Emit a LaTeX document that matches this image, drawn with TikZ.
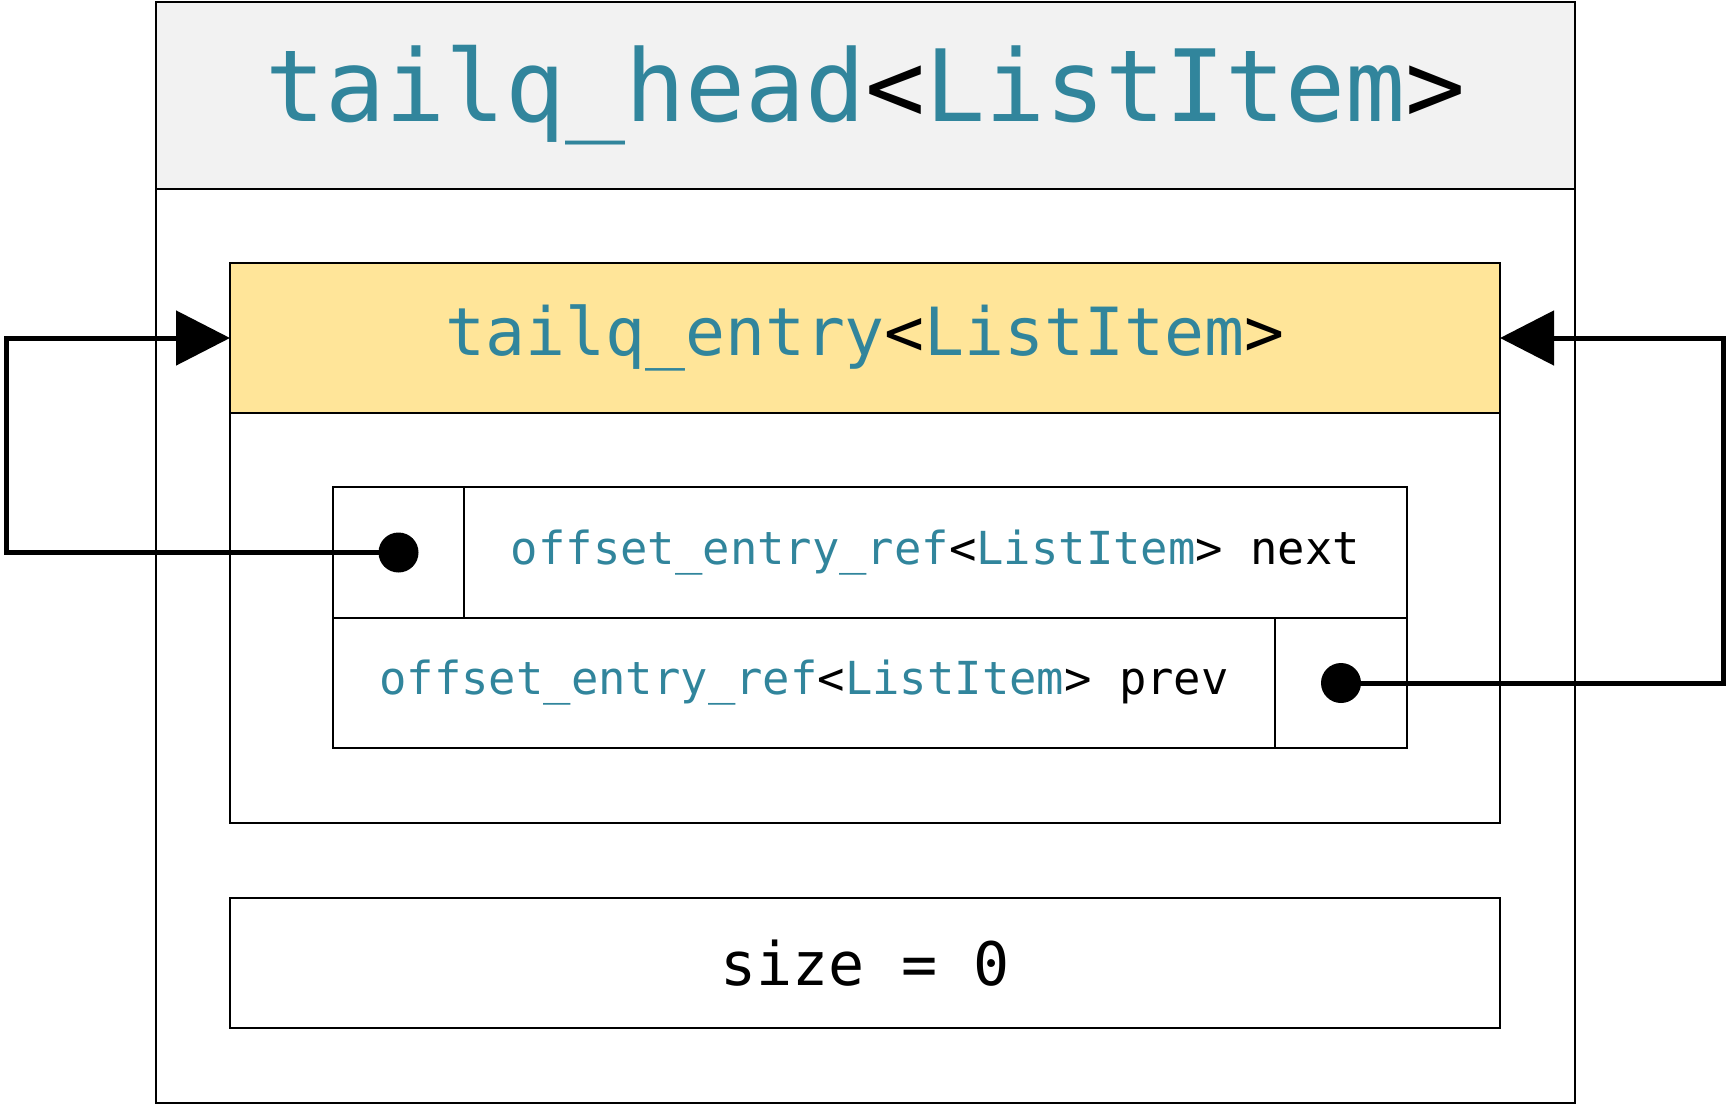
\documentclass[tikz,border=0pt]{standalone}
\usepackage{fontspec}
\setmonofont{DejaVu Sans Mono}
\usetikzlibrary{arrows.meta}
\definecolor{tealtext}{HTML}{31859C}
\definecolor{headgray}{HTML}{F2F2F2}
\definecolor{entryyellow}{HTML}{FFE599}
\newcommand{\tl}[1]{\textcolor{tealtext}{#1}}
\begin{document}
\begin{tikzpicture}[x=1pt,y=-1pt,
    cell/.style = {draw, line width=1.6pt, inner sep=0pt, outer sep=0pt, font=\ttfamily},
    wire/.style = {line width=5pt},
    dot/.style = {circle, fill=black, inner sep=0pt, minimum size=40pt}]
\useasboundingbox (0,0) rectangle (1731,1106);
\node[cell, minimum width=1419pt, minimum height=1101pt] (head) at (865.5,552.5) {};
\node[cell, fill=headgray, minimum width=1419pt, minimum height=187pt,
    font=\ttfamily\fontsize{99.7}{100}\selectfont] (headbar) at (865.5,95.5)
    {\tl{tailq\_head}<\tl{ListItem}>};
\node[cell, minimum width=1270pt, minimum height=560pt] (entry) at (865,543) {};
\node[cell, fill=entryyellow, minimum width=1270pt, minimum height=150pt,
    font=\ttfamily\fontsize{66.4}{67}\selectfont] (entrybar) at (865,338)
    {\tl{tailq\_entry}<\tl{ListItem}>};
\node[cell, minimum width=131pt, minimum height=131pt] (nextptr) at (398.5,552.5) {};
\node[cell, minimum width=943pt, minimum height=131pt,
    font=\ttfamily\fontsize{45.5}{46}\selectfont] (nextname) at (935.5,552.5)
    {\tl{offset\_entry\_ref}<\tl{ListItem}> next};
\node[cell, minimum width=942pt, minimum height=130pt,
    font=\ttfamily\fontsize{45.5}{46}\selectfont] (prevname) at (804,683)
    {\tl{offset\_entry\_ref}<\tl{ListItem}> prev};
\node[cell, minimum width=132pt, minimum height=130pt] (prevptr) at (1341,683) {};
\node[cell, minimum width=1270pt, minimum height=130pt,
    font=\ttfamily\fontsize{60}{61}\selectfont] (size) at (865,963) {size = 0};
\coordinate (lwire) at (6,338);
\coordinate (rwire) at (1723,338);
\node[dot] (nextdot) at (nextptr) {};
\node[dot] (prevdot) at (prevptr) {};
\draw[wire, -{Triangle[length=54pt,width=54pt]}] (nextdot.center) -| (lwire) -- (entrybar.west);
\draw[wire, -{Triangle[length=54pt,width=54pt]}] (prevdot.center) -| (rwire) -- (entrybar.east);
\end{tikzpicture}
\end{document}
